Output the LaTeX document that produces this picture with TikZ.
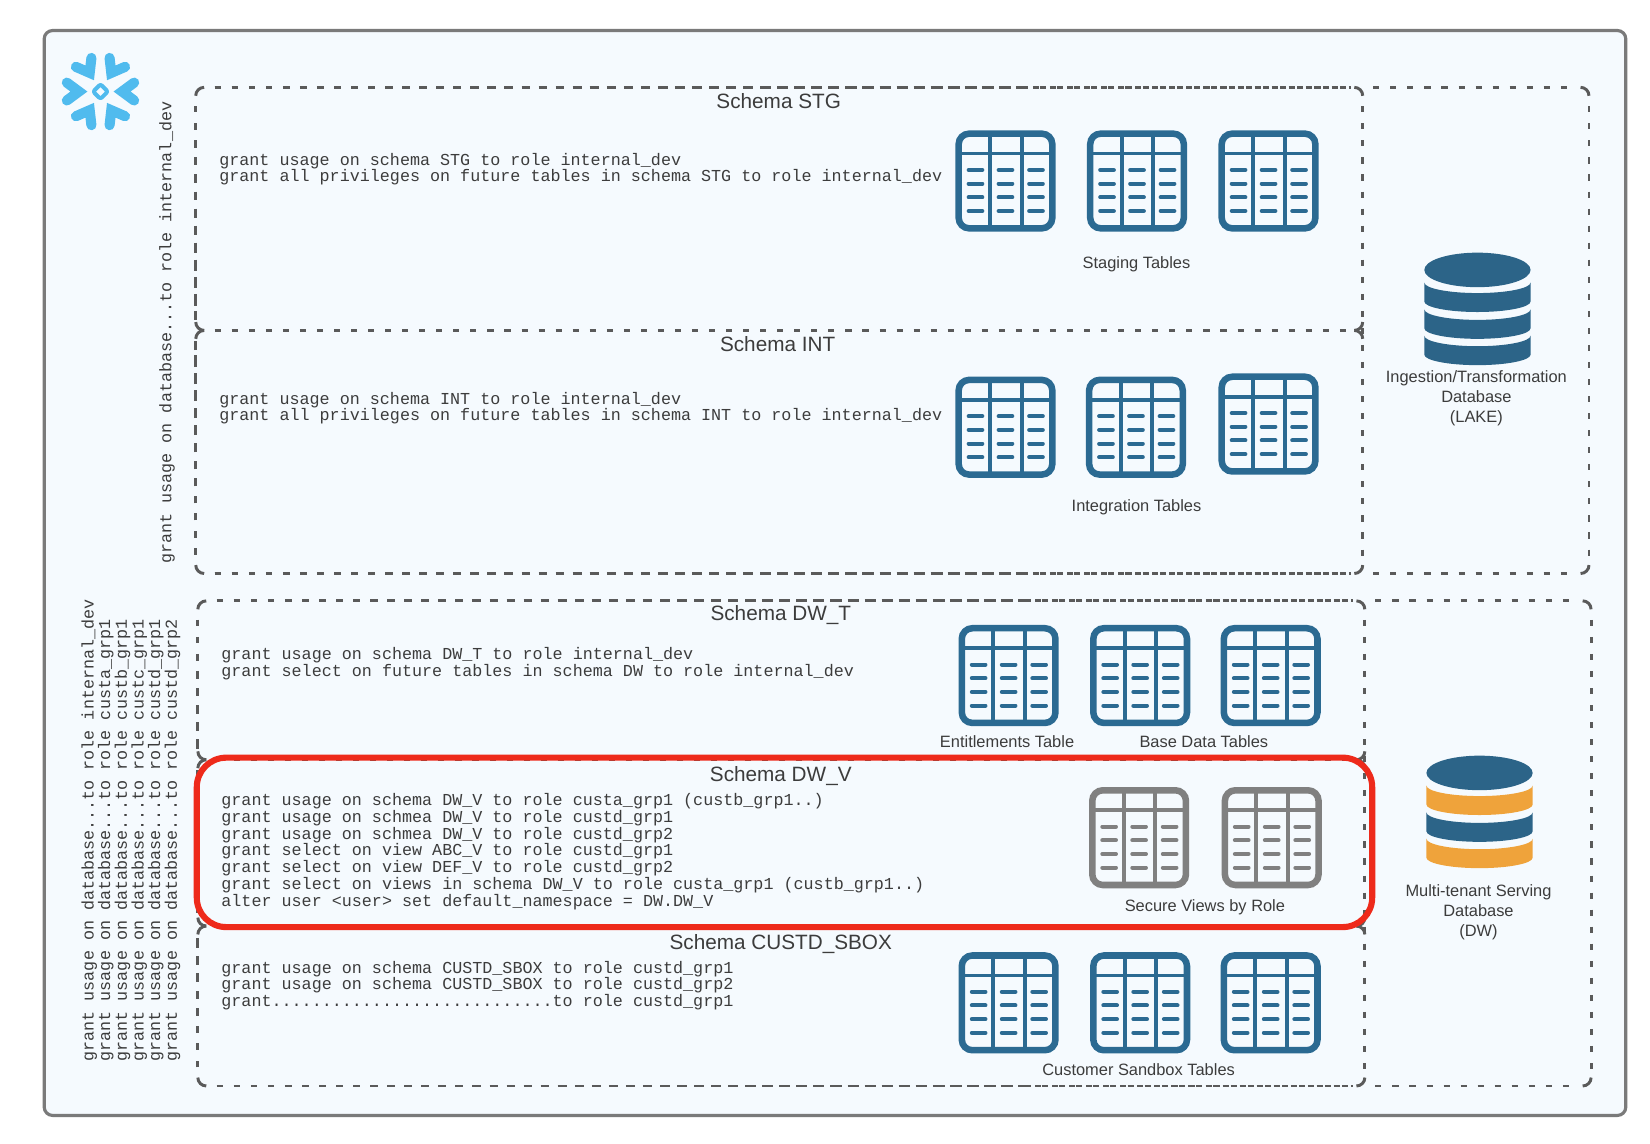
\documentclass[tikz,border=0pt]{standalone}
\usepackage{fontspec}
\setmainfont{Liberation Sans}
\setmonofont{Liberation Mono}
\definecolor{panelbg}{HTML}{F5FAFE}
\definecolor{panelline}{HTML}{7A7A7A}
\definecolor{frameline}{HTML}{5A5A5A}
\definecolor{iconblue}{HTML}{2B6A92}
\definecolor{icongray}{HTML}{808080}
\definecolor{dbblue}{HTML}{2C6488}
\definecolor{dborange}{HTML}{EFA33B}
\definecolor{hilite}{HTML}{EE2A1B}
\definecolor{flake}{HTML}{50BBEE}
\definecolor{txt}{HTML}{3C3C3C}
\tikzset{
  frameline/.style={draw=frameline,line width=1.4pt},
  dashA/.style={frameline,dash pattern=on 2.9pt off 5.2pt},
  dashB/.style={frameline,dash pattern=on 2.9pt off 5.265pt},
  dashC/.style={frameline,dash pattern=on 2.9pt off 5.45pt},
  cornermark/.style={frameline,rounded corners=4pt},
  schematitle/.style={text=txt,font=\fontsize{9.85}{11}\selectfont,inner sep=0pt},
  iconlabel/.style={text=txt,font=\fontsize{7.8}{9.5}\selectfont,inner sep=0pt,align=center},
  code/.style={text=txt,font=\ttfamily\fontsize{7.95}{7.92}\selectfont,inner sep=0pt,align=left,anchor=north west},
  pics/tableicon/.style={code={
    \draw[pic actions,line width=3.1pt,rounded corners=5pt] (3,3) rectangle (92,93);
    \draw[pic actions,line width=1.9pt] (33,3) -- (33,93) (63,3) -- (63,93);
    \draw[pic actions,line width=1.7pt] (3,22) -- (92,22);
    \foreach \r in {37.5,50.5,63.5,76.5}
      \foreach \c in {19,47.5,76.5}
        \draw[pic actions,line width=1.9pt,line cap=round] (\c-6.5,\r) -- (\c+6.5,\r);
  }},
  pics/dbband/.style={code={
    \fill[pic actions] (-50.5,0) .. controls (-50.5,5.5) and (-27.6,10) .. (0,10) .. controls (27.6,10) and (50.5,5.5) .. (50.5,0)
      -- (50.5,18) .. controls (50.5,23.5) and (27.6,28) .. (0,28) .. controls (-27.6,28) and (-50.5,23.5) .. (-50.5,18) -- cycle;
  }},
}
\begin{document}
\begin{tikzpicture}[x=0.5pt,y=-0.5pt]
\useasboundingbox (0,0) rectangle (1568,1087.1);
\fill[white] (0,0) rectangle (1568,1087.1);
% outer panel
\draw[fill=panelbg,draw=panelline,line width=1.5pt,rounded corners=4pt] (42,29) rectangle (1545,1060);

% snowflake
\begin{scope}[shift={(95.5,87)}]
  \foreach \a in {0,60,...,300}
    \draw[flake,line width=4.8pt,line cap=round,line join=miter,miter limit=10,rotate=\a] (-32,-8.5) -- (-20.5,0) -- (-32,8.5);
  \draw[flake,line width=1.9pt,line join=round,rounded corners=1pt] (0,-7) -- (7,0) -- (0,7) -- (-7,0) -- cycle;
\end{scope}

% upper frames: horizontal runs start at the left corner
\foreach \y in {83,545} {
  \draw[dashA] (204,\y) -- (1284,\y);
  \draw[dashB] (204,\y) -- (1284,\y);
  \draw[dashA] (1305,\y) -- (1499,\y);
}
\draw[dashA] (204,314) -- (1284,314);
% upper verticals
\draw[dashA] (186,101) -- (186,304);
\draw[dashC] (186,101) -- (186,304);
\draw[dashA] (186,527) -- (186,324);
\draw[dashC] (186,527) -- (186,324);
\draw[dashA] (1295,101) -- (1295,534);
\draw[dashA] (1510,101) -- (1510,534);
% lower frames
\foreach \y in {571,1032} {
  \draw[dashA] (206,\y) -- (1286,\y);
  \draw[dashB] (206,\y) -- (1286,\y);
  \draw[dashA] (1307,\y) -- (1501,\y);
}
\foreach \y in {722,880} \draw[dashA] (206,\y) -- (1286,\y);
\draw[dashA] (188,589) -- (188,712);
\draw[dashC] (188,589) -- (188,712);
\draw[dashA] (188,732) -- (188,870);
\draw[dashA] (188,1014) -- (188,890);
\draw[dashC] (188,1014) -- (188,890);
\draw[dashA] (1297,589) -- (1297,1021);
\draw[dashA] (1512,589) -- (1512,1021);
% frame corners and junctions
\foreach \x/\y/\dx/\dy in {186/83/8/8,1295/83/-8/8,1510/83/-8/8,
  186/314/8/-8,186/314/8/8,1295/314/-8/-8,1295/314/-8/8,
  186/545/8/-8,1295/545/-8/-8,1510/545/-8/-8,
  188/571/8/8,1297/571/-8/8,1512/571/-8/8,
  188/722/8/-8,188/722/8/8,1297/722/-8/-8,1297/722/-8/8,
  188/880/8/-8,188/880/8/8,1297/880/-8/-8,1297/880/-8/8,
  188/1032/8/-8,1297/1032/-8/-8,1512/1032/-8/-8}
  \draw[cornermark] (\x,\y+\dy) -- (\x,\y) -- (\x+\dx,\y);

% schema titles
\node[schematitle] (tstg) at (740,96) {Schema STG};
\node[schematitle] (tint) at (739,327) {Schema INT};
\node[schematitle] (tdwt) at (742,584) {Schema DW\_T};
\node[schematitle] (tdwv) at (742,737) {Schema DW\_V};
\node[schematitle] (tsbox) at (742,897) {Schema CUSTD\_SBOX};

% code blocks
\node[code] (cstg) at (208,145) {grant usage on schema STG to role internal\_dev\\grant all privileges on future tables in schema STG to role internal\_dev};
\node[code] (cint) at (208,372) {grant usage on schema INT to role internal\_dev\\grant all privileges on future tables in schema INT to role internal\_dev};
\node[code] (cdwt) at (210,615) {grant usage on schema DW\_T to role internal\_dev\\grant select on future tables in schema DW to role internal\_dev};
\node[code] (cdwv) at (210,754) {grant usage on schema DW\_V to role custa\_grp1 (custb\_grp1..)\\grant usage on schmea DW\_V to role custd\_grp1\\grant usage on schmea DW\_V to role custd\_grp2\\grant select on view ABC\_V to role custd\_grp1\\grant select on view DEF\_V to role custd\_grp2\\grant select on views in schema DW\_V to role custa\_grp1 (custb\_grp1..)\\alter user <user> set default\_namespace = DW.DW\_V};
\node[code] (csbox) at (210,913) {grant usage on schema CUSTD\_SBOX to role custd\_grp1\\grant usage on schema CUSTD\_SBOX to role custd\_grp2\\grant............................to role custd\_grp1};

% rotated code
\node[code,rotate=90] (rlake) at (151,536) {grant usage on database...to role internal\_dev};
\node[code,rotate=90] (rdw) at (77,1009) {grant usage on database...to role internal\_dev\\grant usage on database...to role custa\_grp1\\grant usage on database...to role custb\_grp1\\grant usage on database...to role custc\_grp1\\grant usage on database...to role custd\_grp1\\grant usage on database...to role custd\_grp2};

% table icons
\foreach \x/\y/\c in {908/124/iconblue,1033/124/iconblue,1158/124/iconblue,
  908/358/iconblue,1032/358/iconblue,1158/355/iconblue,
  911/594/iconblue,1036/594/iconblue,1160/594/iconblue,
  1035/748/icongray,1161/748/icongray,
  911/905/iconblue,1036/905/iconblue,1160/905/iconblue}
  \pic[draw=\c,shift={(\x,\y)}] {tableicon};

% icon labels
\node[iconlabel] (lstg) at (1080,251) {Staging Tables};
\node[iconlabel] (lint) at (1080,482) {Integration Tables};
\node[iconlabel] (lent) at (957,705) {Entitlements Table};
\node[iconlabel] (lbase) at (1144,705) {Base Data Tables};
\node[iconlabel] (lsec) at (1145,862) {Secure Views by Role};
\node[iconlabel] (lcust) at (1082,1016) {Customer Sandbox Tables};

% databases
\fill[dbblue] (1404,256.5) ellipse [x radius=25.25pt,y radius=8.2pt];
\pic[fill=dbblue] at (1404,268.5) {dbband};
\pic[fill=dbblue] at (1404,294) {dbband};
\pic[fill=dbblue] at (1404,319) {dbband};
\node[iconlabel,anchor=north] (ldb1) at (1403,351.5) {Ingestion/Transformation\\Database\\(LAKE)};

\fill[dbblue] (1406,734.5) ellipse [x radius=25.25pt,y radius=8.2pt];
\pic[fill=dborange] at (1406,746.5) {dbband};
\pic[fill=dbblue] at (1406,772) {dbband};
\pic[fill=dborange] at (1406,797) {dbband};
\node[iconlabel,anchor=north] (ldb2) at (1405,840.5) {Multi-tenant Serving\\Database\\(DW)};

% highlight
\draw[hilite,line width=2.9pt,rounded corners=14pt] (187,720) rectangle (1304,881);
\end{tikzpicture}
\end{document}
